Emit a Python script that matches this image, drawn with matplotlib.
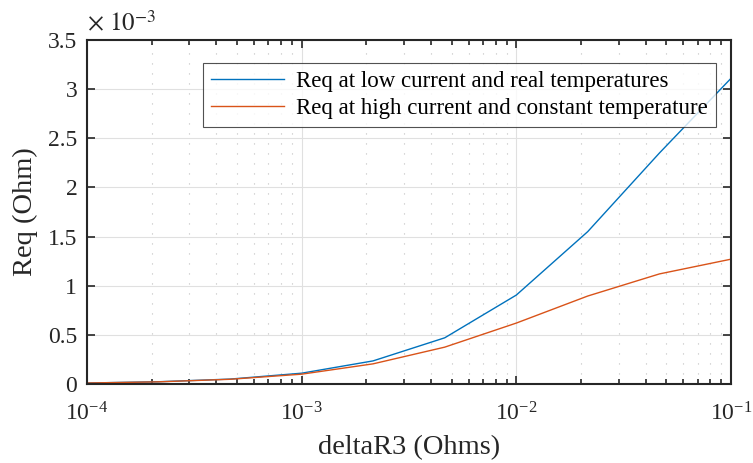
import numpy as np
import matplotlib.pyplot as plt
from matplotlib.ticker import LogLocator, NullFormatter

plt.rcParams['font.family'] = ['Liberation Serif', 'DejaVu Serif']
plt.rcParams['mathtext.fontset'] = 'stix'

# deltaR3 values (Ohms)
delta_r3 = [1e-4, 2.15e-4, 4.64e-4, 1e-3, 2.15e-3, 4.64e-3, 1e-2, 2.15e-2, 4.64e-2, 1e-1]
# Req in units of 1e-3 Ohm
req_low = [0.01, 0.023, 0.05, 0.11, 0.235, 0.47, 0.905, 1.55, 2.35, 3.11]
req_high = [0.01, 0.022, 0.048, 0.10, 0.205, 0.375, 0.62, 0.895, 1.12, 1.27]

labels = ['Req at low current and real temperatures',
          'Req at high current and constant temperature']
yticks = [0, 0.5, 1, 1.5, 2, 2.5, 3, 3.5]
yticklabels = ['0', '0.5', '1', '1.5', '2', '2.5', '3', '3.5']

fig = plt.figure(figsize=(7.53, 4.63), dpi=100)
ax = fig.add_axes([87/753, 1-384/463, (731-87)/753, (384-40)/463])

ax.plot(delta_r3, req_low, color='#0072BD', lw=1.0, label=labels[0])
ax.plot(delta_r3, req_high, color='#D95319', lw=1.0, label=labels[1])

ax.set_xscale('log')
ax.set_xlim(1e-4, 1e-1)
ax.set_ylim(0, 3.5)
ax.set_yticks(yticks)
ax.set_yticklabels(yticklabels)
ax.xaxis.set_minor_locator(LogLocator(base=10, subs=np.arange(2, 10), numticks=20))
ax.xaxis.set_minor_formatter(NullFormatter())

ax.grid(True, which='major', color='#e0e0e0', lw=0.8)
ax.grid(True, which='minor', axis='x', color='#c0c0c0', lw=0.8, ls=(0, (1, 8)))
ax.set_axisbelow(True)

ax.tick_params(which='both', direction='in', top=True, right=True, labelsize=17,
               width=1.2, color='#262626', labelcolor='#262626')
ax.tick_params(which='major', length=6)
ax.tick_params(which='minor', length=3.5)
ax.tick_params(axis='x', pad=13)
ax.tick_params(axis='y', pad=7)
for s in ax.spines.values():
    s.set_linewidth(1.5)
    s.set_color('#262626')

ax.set_xlabel('deltaR3 (Ohms)', fontsize=20.5, labelpad=7, color='#262626')
ax.set_ylabel('Req (Ohm)', fontsize=20.5, labelpad=7, color='#262626')
ax.text(0.0, 1.01, r'$\times\ 10^{-3}$', transform=ax.transAxes, fontsize=18,
        ha='left', va='bottom', color='#262626')

leg = ax.legend(loc='upper left', bbox_to_anchor=((203-87)/644, (384-63)/344),
                borderaxespad=0, fontsize=16.5, frameon=True, fancybox=False,
                edgecolor='#262626', handlelength=3.2, handletextpad=0.5,
                borderpad=0.35, labelspacing=0.25)
leg.get_frame().set_linewidth(0.8)

fig.savefig('out.png', dpi=100)
